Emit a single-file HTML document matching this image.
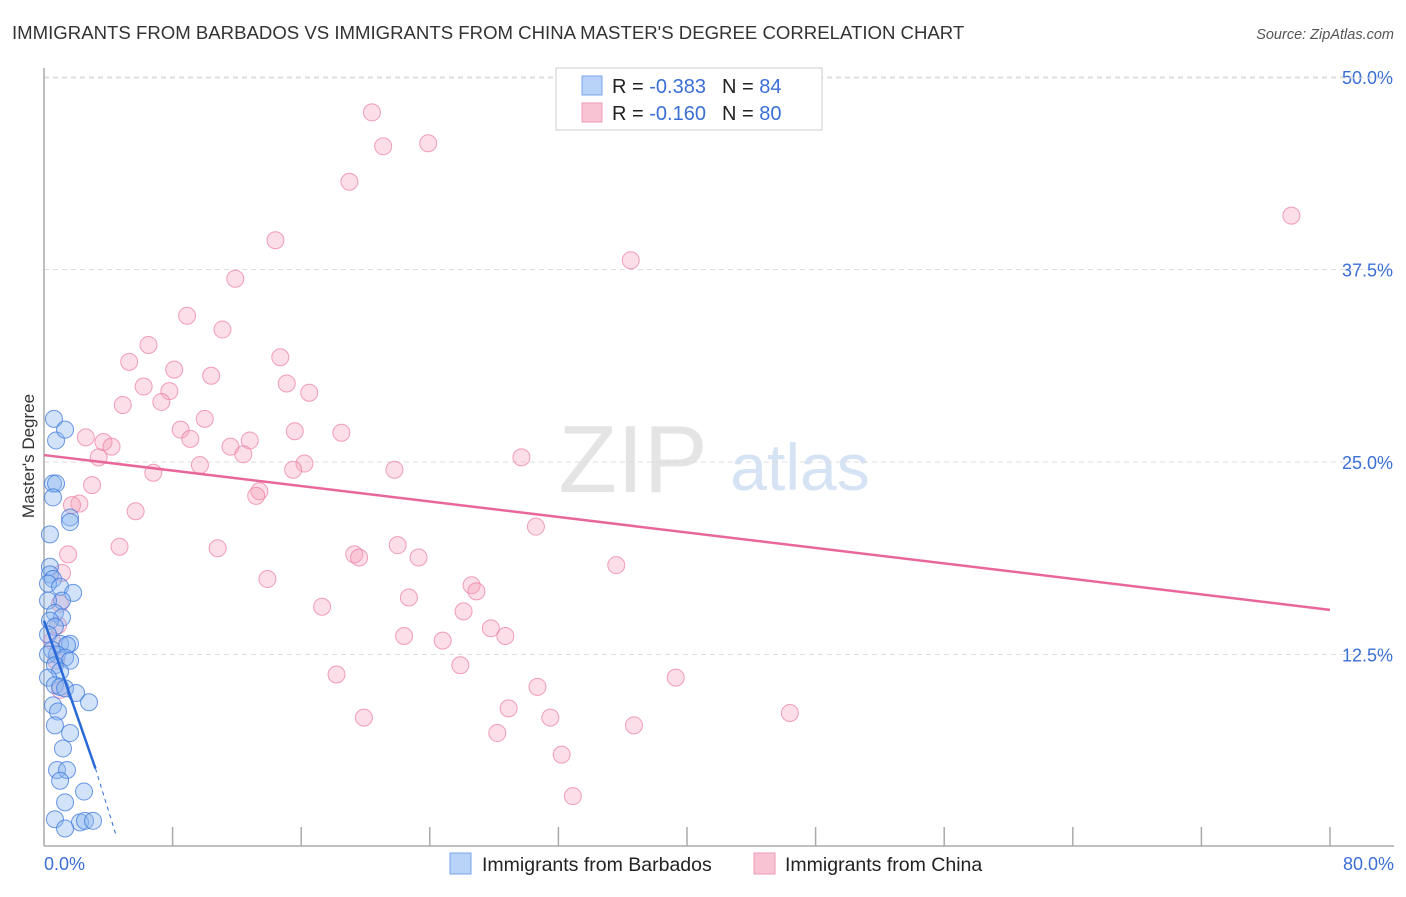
<!DOCTYPE html>
<html><head><meta charset="utf-8"><style>
body{margin:0;background:#fff;font-family:"Liberation Sans",sans-serif;}
svg text{font-family:"Liberation Sans",sans-serif;}
</style></head><body>
<svg id="c" width="1406" height="892" xmlns="http://www.w3.org/2000/svg">
<text x="12" y="39" font-size="18.6" fill="#333">IMMIGRANTS FROM BARBADOS VS IMMIGRANTS FROM CHINA MASTER'S DEGREE CORRELATION CHART</text>
<text x="1394" y="39" font-size="14.5" fill="#555" font-style="italic" text-anchor="end">Source: ZipAtlas.com</text>
<text x="633" y="492" font-size="96" fill="#e4e4e4" font-family="Liberation Serif" text-anchor="middle">ZIP</text>
<text x="800" y="490" font-size="66" fill="#d6e3f5" text-anchor="middle">atlas</text>
<text transform="translate(34,456) rotate(-90)" font-size="17" fill="#333" text-anchor="middle">Master's Degree</text>
<g id="grid"></g><g id="pts"></g><g id="trend"></g>
<g>
<rect x="556" y="68" width="266" height="62" fill="#fff" stroke="#ccc"/>
<rect x="582" y="76" width="20" height="19" fill="#b8d3f7" stroke="#7aa6e8"/>
<rect x="582" y="103" width="20" height="19" fill="#f8c4d3" stroke="#ee9ab4"/>
<text x="612" y="93" font-size="20" fill="#222">R = <tspan fill="#3b6fd6">-0.383</tspan><tspan dx="16">N = </tspan><tspan fill="#3b6fd6">84</tspan></text>
<text x="612" y="120" font-size="20" fill="#222">R = <tspan fill="#3b6fd6">-0.160</tspan><tspan dx="16">N = </tspan><tspan fill="#3b6fd6">80</tspan></text>
</g>
<g>
<rect x="450" y="853" width="21" height="21" fill="#b8d3f7" stroke="#7aa6e8"/>
<text x="482" y="871" font-size="19.5" fill="#222">Immigrants from Barbados</text>
<rect x="754" y="853" width="21" height="21" fill="#f8c4d3" stroke="#ee9ab4"/>
<text x="785" y="871" font-size="19.5" fill="#222">Immigrants from China</text>
</g>
</svg>
<script>
const yTicks=[12.5,25.0,37.5,50.0];
const yTickLabels=["12.5%","25.0%","37.5%","50.0%"];
const xTickLabels=["0.0%","80.0%"];
const chinaX=[20.4,23.9,21.1,19.0,77.6,14.4,36.5,11.9,8.9,11.1,6.5,5.3,14.7,8.1,10.4,6.2,15.1,16.5,7.8,4.9,7.3,10.0,8.5,15.6,18.5,2.6,3.7,4.2,9.1,12.8,11.6,12.4,3.4,16.2,29.7,9.7,15.5,6.8,21.8,2.99,13.4,13.2,2.2,1.74,5.7,30.6,22.0,4.7,10.8,1.5,19.3,19.6,23.3,35.6,1.12,13.9,26.6,26.9,0.99,22.7,17.3,26.1,27.8,28.7,22.4,24.8,25.9,18.2,39.3,30.7,28.9,19.9,31.5,46.4,36.7,28.2,32.2,32.9,0.87,0.5,0.75,1.0];
const chinaY=[47.7,45.7,45.5,43.2,41.0,39.4,38.1,36.9,34.5,33.6,32.6,31.5,31.8,31.0,30.6,29.9,30.1,29.5,29.6,28.7,28.9,27.8,27.1,27.0,26.9,26.6,26.3,26.0,26.5,26.4,26.0,25.5,25.3,24.9,25.3,24.8,24.5,24.3,24.5,23.5,23.1,22.8,22.3,22.2,21.8,20.8,19.6,19.5,19.4,19.0,19.0,18.8,18.8,18.3,17.8,17.4,17.0,16.6,15.8,16.2,15.6,15.3,14.2,13.7,13.7,13.4,11.8,11.2,11.0,10.4,9.0,8.4,8.4,8.7,7.9,7.4,6.0,3.3,14.4,13.4,12.1,10.2];
const barbX=[0.62,0.75,1.31,0.56,0.75,0.56,1.62,1.62,0.37,0.37,0.37,0.56,0.25,1.0,1.81,1.12,0.25,0.68,1.12,0.37,0.68,0.25,1.0,1.62,1.43,0.5,0.81,1.31,1.62,0.25,0.68,1.0,0.25,0.68,1.0,1.31,2.0,2.8,0.56,0.87,0.68,1.62,1.18,0.81,1.43,1.0,2.49,1.31,0.68,2.24,1.31,2.55,3.05];
const barbY=[27.8,26.4,27.1,23.6,23.6,22.7,21.4,21.1,20.3,18.2,17.7,17.4,17.1,16.9,16.5,16.0,16.0,15.2,14.9,14.7,14.3,13.8,13.2,13.2,13.1,12.8,12.5,12.3,12.1,12.5,11.8,11.4,11.0,10.5,10.4,10.3,10.0,9.4,9.2,8.8,7.9,7.4,6.4,5.0,5.0,4.3,3.6,2.9,1.8,1.6,1.2,1.7,1.7];
const chinaTrend=[0,25.45,80,15.4];
const barbTrendSolid=[0,14.7,3.2,5.1];
const barbTrendDash=[3.2,5.1,4.5,0.7];
const X=v=>44+v*16.075, Y=v=>847-v*15.4;
const NS="http://www.w3.org/2000/svg";
function mk(tag,attrs,parent){const e=document.createElementNS(NS,tag);for(const k in attrs)e.setAttribute(k,attrs[k]);parent.appendChild(e);return e;}
const grid=document.getElementById('grid');
yTicks.forEach((t,i)=>{
 const l=mk('line',{x1:44,x2:1394,y1:Y(t),y2:Y(t),stroke:'#ddd','stroke-dasharray':'5,4'},grid);
 
 
 const tx=mk('text',{x:1393,y:Y(t)+7,'font-size':18,fill:'#3b6fd6','text-anchor':'end'},grid);
 tx.textContent=yTickLabels[i];
 
 
});
const topLine=mk('line',{x1:44,x2:1394,y1:78,y2:78,stroke:'#ddd','stroke-dasharray':'5,4'},grid);


const ax=mk('line',{x1:44,x2:1394,y1:846,y2:846,stroke:'#aaa','stroke-width':1.5},grid);


const ay=mk('line',{x1:44,x2:44,y1:68,y2:846,stroke:'#aaa','stroke-width':1.5},grid);


for(let v=8;v<=80;v+=8){const t=mk('line',{x1:X(v),x2:X(v),y1:827,y2:846,stroke:'#aaa','stroke-width':1.5},grid);
 
 }
const xl0=mk('text',{x:44,y:870,'font-size':18,fill:'#3b6fd6'},grid);xl0.textContent=xTickLabels[0];


const xl1=mk('text',{x:1394,y:870,'font-size':18,fill:'#3b6fd6','text-anchor':'end'},grid);xl1.textContent=xTickLabels[1];


const pts=document.getElementById('pts');
chinaX.forEach((x,i)=>{const c=mk('circle',{cx:X(x),cy:Y(chinaY[i]),r:8.5,fill:'rgba(244,160,186,0.35)',stroke:'rgba(236,130,163,0.75)','stroke-width':1},pts);
 
 });
barbX.forEach((x,i)=>{const c=mk('circle',{cx:X(x),cy:Y(barbY[i]),r:8.5,fill:'rgba(140,182,240,0.4)',stroke:'rgba(60,120,220,0.75)','stroke-width':1},pts);
 
 });
const tr=document.getElementById('trend');
const t1=mk('line',{x1:X(chinaTrend[0]),y1:Y(chinaTrend[1]),x2:X(chinaTrend[2]),y2:Y(chinaTrend[3]),stroke:'#e8679a','stroke-width':2.5},tr);


const t2=mk('line',{x1:X(barbTrendSolid[0]),y1:Y(barbTrendSolid[1]),x2:X(barbTrendSolid[2]),y2:Y(barbTrendSolid[3]),stroke:'#2a6ad8','stroke-width':2.5},tr);


const t3=mk('line',{x1:X(barbTrendDash[0]),y1:Y(barbTrendDash[1]),x2:X(barbTrendDash[2]),y2:Y(barbTrendDash[3]),stroke:'#2a6ad8','stroke-width':1,'stroke-dasharray':'4,4'},tr);


</script>
</body></html>
